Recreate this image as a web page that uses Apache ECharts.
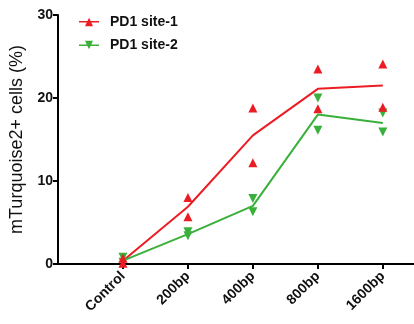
<!DOCTYPE html>
<html>
<head>
<meta charset="utf-8">
<script src="https://cdn.jsdelivr.net/npm/echarts@6/dist/echarts.min.js"></script>
<style>
  html, body { margin: 0; padding: 0; background: #fff; }
  #chart { width: 414px; height: 324px; }
</style>
</head>
<body>
<div id="chart"></div>
<script>
// categories on the x axis
var categories = ['Control', '200bp', '400bp', '800bp', '1600bp'];
var yTicks = [0, 10, 20, 30];

// replicate points
var site1RepA = [0.7, 8.0, 18.8, 23.5, 24.1];
var site1RepB = [0.1, 5.7, 12.2, 18.7, 18.9];
var site2RepA = [0.8, 3.9, 7.9, 20.0, 18.2];
var site2RepB = [0.2, 3.4, 6.3, 16.1, 15.9];

// connecting lines (group means)
var site1Line = [0.4, 6.9, 15.5, 21.1, 21.5];
var site2Line = [0.4, 3.6, 7.0, 18.0, 17.0];

var red = '#ec1c24';
var green = '#39b03a';
var font = 'Arial, "Liberation Sans", sans-serif';

function pts(arr) {
  return arr.map(function (v, i) { return [i, v]; });
}

var myChart = echarts.init(document.getElementById('chart'));

myChart.setOption({
  animation: false,
  textStyle: { fontFamily: font },
  grid: { left: 58, right: 0, top: 15, bottom: 60, containLabel: false },
  legend: {
    orient: 'vertical',
    left: 74,
    top: 10,
    itemWidth: 20,
    itemHeight: 10,
    itemGap: 9,
    textStyle: { fontFamily: font, fontSize: 14, fontWeight: 'bold', color: '#111', padding: [0, 0, 0, 6] },
    data: [
      { name: 'PD1 site-1', icon: 'path://M0,4.3h20v1.4h-20z M6,9.5 L10,1 L14,9.5z' },
      { name: 'PD1 site-2', icon: 'path://M0,4.3h20v1.4h-20z M6,0.5 L14,0.5 L10,9z' }
    ]
  },
  xAxis: {
    type: 'value',
    min: -1,
    max: 4.48,
    interval: 1,
    splitLine: { show: false },
    axisLine: { onZero: false, lineStyle: { color: '#000', width: 2 } },
    axisTick: { show: true, length: 5, lineStyle: { color: '#000', width: 2 } },
    axisLabel: {
      rotate: 45,
      margin: 10,
      fontFamily: font,
      fontSize: 14,
      fontWeight: 'bold',
      color: '#111',
      showMinLabel: false,
      showMaxLabel: false,
      formatter: function (v) { return categories[v] || ''; }
    }
  },
  yAxis: {
    type: 'value',
    min: yTicks[0],
    max: yTicks[yTicks.length - 1],
    interval: 10,
    name: 'mTurquoise2+ cells (%)',
    nameLocation: 'middle',
    nameGap: 25,
    nameTextStyle: { fontFamily: font, fontSize: 18, fontWeight: 'normal', color: '#111' },
    splitLine: { show: false },
    axisLine: { show: true, onZero: false, lineStyle: { color: '#000', width: 2 } },
    axisTick: { show: true, length: 5, lineStyle: { color: '#000', width: 2 } },
    axisLabel: { margin: 5, fontFamily: font, fontSize: 14, fontWeight: 'bold', color: '#111' }
  },
  series: [
    {
      name: 'PD1 site-1',
      type: 'line',
      data: pts(site1Line),
      showSymbol: false,
      symbol: 'none',
      color: red,
      lineStyle: { color: red, width: 2 },
      z: 2
    },
    {
      name: 'PD1 site-2',
      type: 'line',
      data: pts(site2Line),
      showSymbol: false,
      symbol: 'none',
      color: green,
      lineStyle: { color: green, width: 2 },
      z: 2
    },
    {
      name: 'PD1 site-2',
      type: 'scatter',
      data: pts(site2RepA).concat(pts(site2RepB)),
      symbol: 'triangle',
      symbolRotate: 180,
      symbolSize: 9,
      itemStyle: { color: green, opacity: 1 },
      z: 3
    },
    {
      name: 'PD1 site-1',
      type: 'scatter',
      data: pts(site1RepA).concat(pts(site1RepB)),
      symbol: 'triangle',
      symbolSize: 9,
      itemStyle: { color: red, opacity: 1 },
      z: 4
    }
  ]
});
</script>
</body>
</html>
